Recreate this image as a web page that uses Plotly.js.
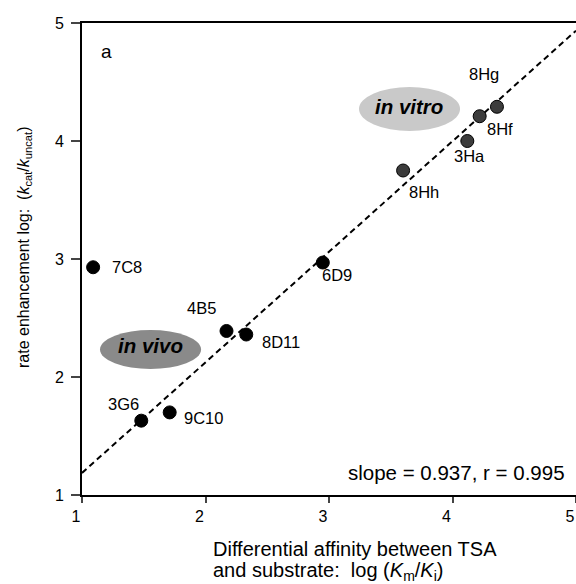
<!DOCTYPE html>
<html>
<head>
<meta charset="utf-8">
<script src="https://cdn.plot.ly/plotly-3.0.1.min.js"></script>
<style>html,body{margin:0;padding:0;background:#fff}#chart{width:576px;height:584px}</style>
</head>
<body>
<div id="chart"></div>
<script>
// In vivo antibodies
const vivoNames = ["7C8", "4B5", "8D11", "3G6", "9C10", "6D9"];
const vivoX = [1.09, 2.17, 2.33, 1.48, 1.71, 2.95];
const vivoY = [2.93, 2.39, 2.36, 1.63, 1.70, 2.97];
// In vitro antibodies
const vitroNames = ["8Hh", "3Ha", "8Hf", "8Hg"];
const vitroX = [3.60, 4.12, 4.22, 4.36];
const vitroY = [3.75, 4.00, 4.21, 4.29];
// Regression line
const fitSlope = 0.937;
const fitIntercept = 0.25;
const fitR = 0.995;
const fitX = [1, 5];
const xTicks = [1, 2, 3, 4, 5];
const yTicks = [1, 2, 3, 4, 5];

// label placements (position, anchor)
const labelPos = {
  "7C8": [1.23, 2.93, "left"],
  "4B5": [1.97, 2.585, "center"],
  "8D11": [2.44, 2.30, "left"],
  "3G6": [1.34, 1.77, "center"],
  "9C10": [1.81, 1.655, "left"],
  "6D9": [3.065, 2.865, "center"],
  "8Hh": [3.77, 3.57, "center"],
  "3Ha": [4.14, 3.875, "center"],
  "8Hf": [4.385, 4.10, "center"],
  "8Hg": [4.255, 4.57, "center"]
};

const FONT = "Liberation Sans, Arial, Helvetica, sans-serif";

const traces = [
  {
    x: fitX, y: fitX.map(v => fitSlope * v + fitIntercept),
    mode: "lines", type: "scatter",
    line: {color: "#000", width: 2, dash: "6px,4px"},
    hoverinfo: "skip"
  },
  {
    x: vivoX, y: vivoY, text: vivoNames, mode: "markers", type: "scatter",
    marker: {size: 13, color: "#000", line: {color: "#000", width: 1}}
  },
  {
    x: vitroX, y: vitroY, text: vitroNames, mode: "markers", type: "scatter",
    marker: {size: 13, color: "#3c3c3c", line: {color: "#000", width: 1}}
  }
];

const annotations = [];
vivoNames.concat(vitroNames).forEach(n => {
  const p = labelPos[n];
  annotations.push({x: p[0], y: p[1], xref: "x", yref: "y", text: n, showarrow: false,
    xanchor: p[2], yanchor: "middle", font: {family: FONT, size: 16.5, color: "#000"}});
});
annotations.push({x: 1.2, y: 4.755, xref: "x", yref: "y", text: "a", showarrow: false,
  xanchor: "center", yanchor: "middle", font: {family: FONT, size: 19, color: "#000"}});
annotations.push({x: 3.65, y: 4.29, xref: "x", yref: "y", text: "<b><i>in vitro</i></b>", showarrow: false,
  xanchor: "center", yanchor: "middle", font: {family: FONT, size: 20.5, color: "#000"}});
annotations.push({x: 1.555, y: 2.27, xref: "x", yref: "y", text: "<b><i>in vivo</i></b>", showarrow: false,
  xanchor: "center", yanchor: "middle", font: {family: FONT, size: 20.5, color: "#000"}});
annotations.push({x: (567 - 82) / 494, y: (495 - 472) / 472, xref: "paper", yref: "paper",
  text: "slope = " + fitSlope.toFixed(3) + ", r = " + fitR.toFixed(3), showarrow: false,
  xanchor: "right", yanchor: "middle", font: {family: FONT, size: 20.5, color: "#000"}});
// x-axis title (left-aligned two lines)
annotations.push({x: (211 - 82) / 494, y: (495 - 549) / 472, xref: "paper", yref: "paper",
  text: "Differential affinity between TSA",
  showarrow: false, align: "left", xanchor: "left", yanchor: "middle",
  font: {family: FONT, size: 20, color: "#000"}});
annotations.push({x: (211 - 82) / 494, y: (495 - 571) / 472, xref: "paper", yref: "paper",
  text: "and substrate:  log (<i>K</i><sub>m</sub>/<i>K</i><sub>i</sub>)",
  showarrow: false, align: "left", xanchor: "left", yanchor: "middle",
  font: {family: FONT, size: 20, color: "#000"}});
// y-axis title
annotations.push({x: (25 - 82) / 494, y: (495 - 247) / 472, xref: "paper", yref: "paper",
  text: "rate enhancement log:  (<i>k</i><sub>cat</sub>/<i>k</i><sub>uncat</sub>)",
  showarrow: false, textangle: -90, xanchor: "center", yanchor: "middle",
  font: {family: FONT, size: 16, color: "#000"}});

const shapes = [
  {type: "circle", xref: "x", yref: "y", x0: 3.243, x1: 4.061, y0: 4.085, y1: 4.458,
    fillcolor: "#c9c9c9", line: {width: 0}, layer: "below"},
  {type: "circle", xref: "x", yref: "y", x0: 1.146, x1: 1.964, y0: 2.068, y1: 2.398,
    fillcolor: "#8a8a8a", line: {width: 0}, layer: "below"}
];

const layout = {
  width: 576, height: 584,
  margin: {l: 82, r: 0, t: 23, b: 89},
  paper_bgcolor: "#fff", plot_bgcolor: "#fff",
  showlegend: false,
  font: {family: FONT, size: 16, color: "#000"},
  xaxis: {range: [1, 5], tickvals: xTicks, ticks: "outside", ticklen: 6, tickwidth: 2,
    showline: true, linewidth: 2, linecolor: "#000", mirror: true, showgrid: false, zeroline: false,
    ticklabelshift: -6, ticklabeloverflow: "allow",
    tickfont: {family: FONT, size: 16}},
  yaxis: {range: [1, 5], tickvals: yTicks, ticks: "outside", ticklen: 9, tickwidth: 2,
    showline: true, linewidth: 2, linecolor: "#000", showgrid: false, zeroline: false,
    ticklabelstandoff: 4,
    tickfont: {family: FONT, size: 16}},
  annotations: annotations,
  shapes: shapes
};

Plotly.newPlot("chart", traces, layout, {displayModeBar: false, staticPlot: true});
</script>
</body>
</html>
